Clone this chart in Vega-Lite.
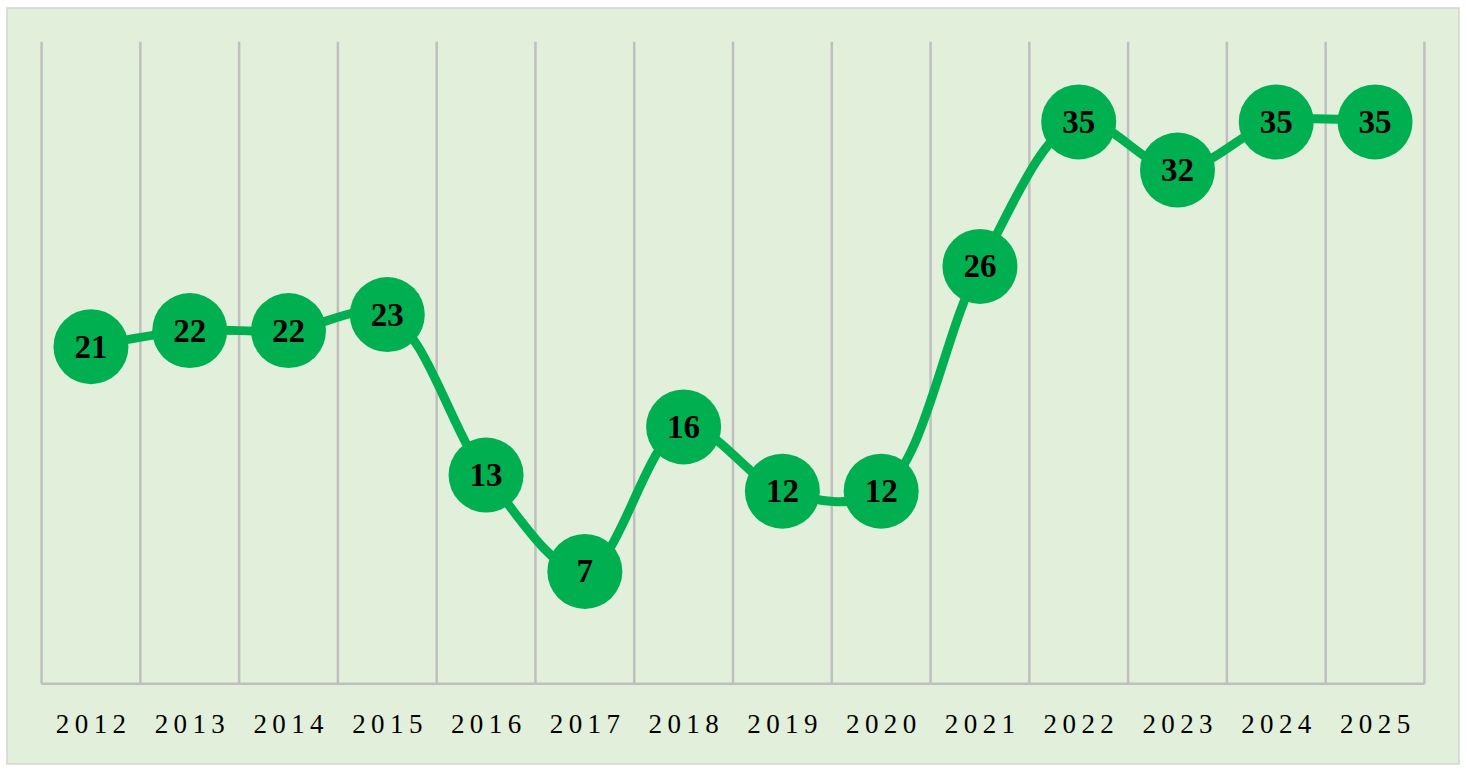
{
  "$schema": "https://vega.github.io/schema/vega-lite/v6.json",
  "width": 1452,
  "height": 756,
  "padding": {"left": 7, "top": 8, "right": 8, "bottom": 10},
  "autosize": {"type": "none"},
  "background": "#FFFFFF",
  "config": {
    "view": {"fill": "#E2EFDA", "stroke": "#D4D4D4", "strokeWidth": 1.5}
  },
  "data": {
    "values": [
      {"year": "2012", "value": 21},
      {"year": "2013", "value": 22},
      {"year": "2014", "value": 22},
      {"year": "2015", "value": 23},
      {"year": "2016", "value": 13},
      {"year": "2017", "value": 7},
      {"year": "2018", "value": 16},
      {"year": "2019", "value": 12},
      {"year": "2020", "value": 12},
      {"year": "2021", "value": 26},
      {"year": "2022", "value": 35},
      {"year": "2023", "value": 32},
      {"year": "2024", "value": 35},
      {"year": "2025", "value": 35}
    ]
  },
  "encoding": {
    "x": {
      "field": "year",
      "type": "nominal",
      "scale": {"type": "band", "paddingInner": 0, "paddingOuter": 0.35},
      "axis": {
        "title": null,
        "domain": false,
        "ticks": false,
        "grid": false,
        "labelAngle": 0,
        "offset": -56,
        "labelPadding": 3,
        "labelFont": "Liberation Serif",
        "labelFontSize": 27,
        "labelColor": "#000000",
        "labelExpr": "join(split(datum.label, ''), '\u2009')"
      }
    }
  },
  "layer": [
    {
      "mark": {"type": "rule", "stroke": "#BFBFBF", "strokeWidth": 2.5},
      "encoding": {
        "x": {"field": "year", "type": "nominal", "bandPosition": 0},
        "y": {"datum": 0, "type": "quantitative", "scale": {"domain": [-5, 42.1], "nice": false, "zero": false}, "axis": null},
        "y2": {"datum": 40}
      }
    },
    {
      "transform": [{"filter": "datum.year == '2025'"}],
      "mark": {"type": "rule", "stroke": "#BFBFBF", "strokeWidth": 2.5},
      "encoding": {
        "x": {"field": "year", "type": "nominal", "bandPosition": 1},
        "y": {"datum": 0, "type": "quantitative"},
        "y2": {"datum": 40}
      }
    },
    {
      "mark": {"type": "tick", "color": "#BFBFBF", "size": 99, "thickness": 2.5, "opacity": 1},
      "encoding": {
        "y": {"datum": 0, "type": "quantitative"}
      }
    },
    {
      "mark": {"type": "line", "color": "#00B050", "strokeWidth": 9, "interpolate": "catmull-rom"},
      "encoding": {
        "y": {"field": "value", "type": "quantitative"}
      }
    },
    {
      "mark": {"type": "point", "shape": "circle", "filled": true, "fill": "#00B050", "opacity": 1, "size": 5625, "strokeWidth": 0},
      "encoding": {
        "y": {"field": "value", "type": "quantitative"}
      }
    },
    {
      "mark": {"type": "text", "font": "Liberation Serif", "fontWeight": "bold", "fontSize": 33, "color": "#000000", "baseline": "middle", "align": "center", "dy": 1},
      "encoding": {
        "y": {"field": "value", "type": "quantitative"},
        "text": {"field": "value", "type": "quantitative"}
      }
    }
  ]
}
